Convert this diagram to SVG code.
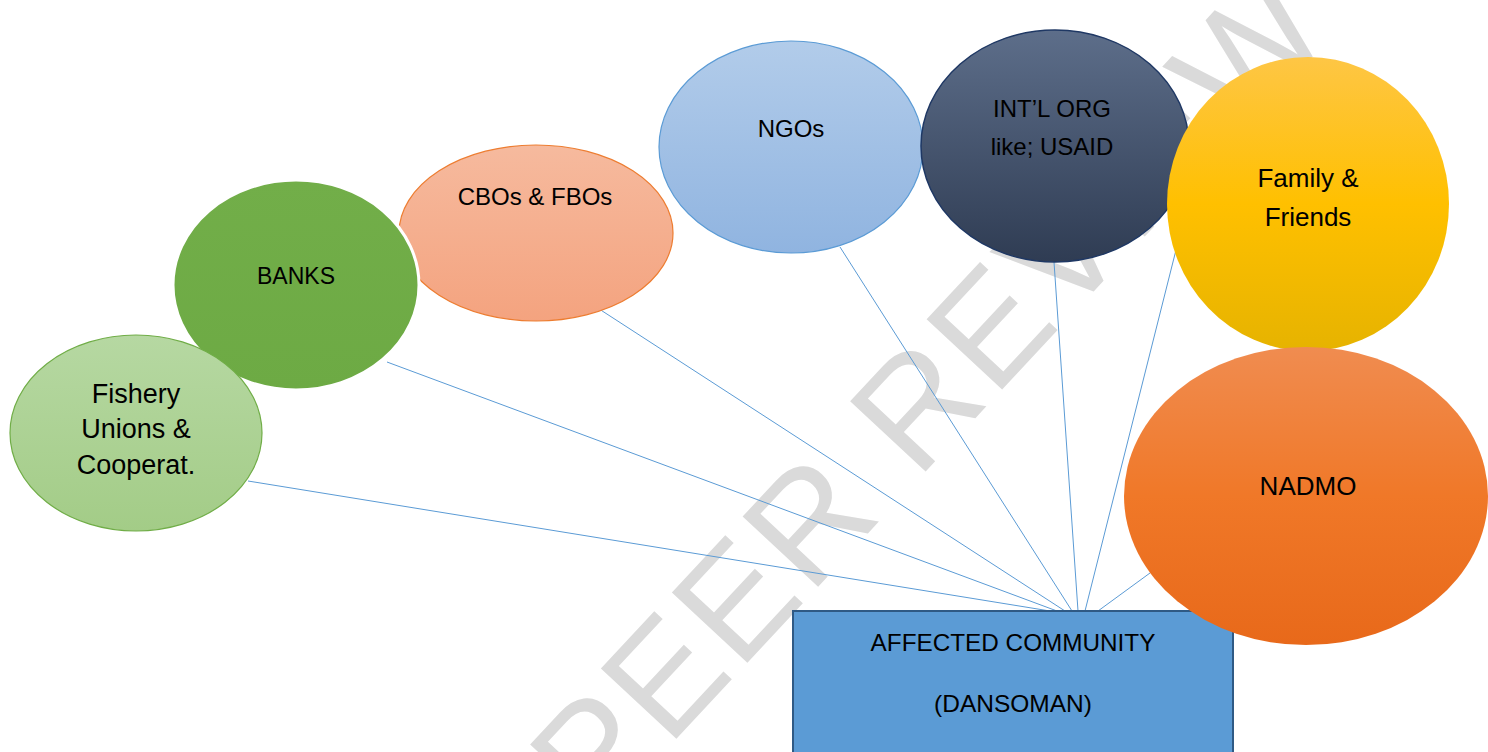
<svg xmlns="http://www.w3.org/2000/svg" width="1488" height="752" viewBox="0 0 1488 752">
  <defs>
    <linearGradient id="gFish" x1="0" y1="0" x2="0" y2="1">
      <stop offset="0" stop-color="#B6D8A2"/>
      <stop offset="1" stop-color="#A3CC87"/>
    </linearGradient>
    <linearGradient id="gBank" x1="0" y1="0" x2="0" y2="1">
      <stop offset="0" stop-color="#72AE49"/>
      <stop offset="1" stop-color="#6DAA44"/>
    </linearGradient>
    <linearGradient id="gCbo" x1="0" y1="0" x2="0" y2="1">
      <stop offset="0" stop-color="#F6BA9E"/>
      <stop offset="1" stop-color="#F4A37F"/>
    </linearGradient>
    <linearGradient id="gNgo" x1="0" y1="0" x2="0" y2="1">
      <stop offset="0" stop-color="#B2CCEA"/>
      <stop offset="1" stop-color="#90B4E0"/>
    </linearGradient>
    <linearGradient id="gInt" x1="0" y1="0" x2="0" y2="1">
      <stop offset="0" stop-color="#5D6E8A"/>
      <stop offset="1" stop-color="#2F3C53"/>
    </linearGradient>
    <linearGradient id="gFam" x1="0" y1="0" x2="0" y2="1">
      <stop offset="0" stop-color="#FEC645"/>
      <stop offset="0.5" stop-color="#FFC000"/>
      <stop offset="1" stop-color="#E6B300"/>
    </linearGradient>
    <linearGradient id="gNad" x1="0" y1="0" x2="0" y2="1">
      <stop offset="0" stop-color="#F08C50"/>
      <stop offset="0.5" stop-color="#F07828"/>
      <stop offset="1" stop-color="#E8691A"/>
    </linearGradient>
  </defs>
  <style>
    .lbl { font-family: "Liberation Sans", Arial, sans-serif; fill: #000000; text-anchor: middle; }
    .conn { stroke: #5B9BD5; stroke-width: 1; fill: none; }
    .wm { font-family: "Liberation Sans", Arial, sans-serif; fill: #DADADA; text-anchor: middle; font-size: 150px; }
  </style>
  <rect x="0" y="0" width="1488" height="752" fill="#FFFFFF"/>

  <g id="watermark" transform="translate(926,392) rotate(-47)">
    <text class="wm" x="0" y="54" textLength="1080" lengthAdjust="spacing">PEER REVIEW</text>
  </g>

  <g id="connectors">
    <line class="conn" x1="248" y1="481" x2="1050" y2="611"/>
    <line class="conn" x1="387" y1="362" x2="1057" y2="611"/>
    <line class="conn" x1="593" y1="305" x2="1065" y2="611"/>
    <line class="conn" x1="840" y1="247" x2="1072" y2="611"/>
    <line class="conn" x1="1054" y1="262" x2="1078" y2="611"/>
    <line class="conn" x1="1176" y1="250" x2="1085" y2="611"/>
    <line class="conn" x1="1150" y1="573" x2="1098" y2="611" stroke="#7F9DB8"/>
  </g>

  <g id="node-cbos">
    <ellipse cx="536" cy="233" rx="137" ry="88" fill="url(#gCbo)" stroke="#ED7D31" stroke-width="1.2"/>
    <text class="lbl" x="535" y="205" font-size="24">CBOs &amp; FBOs</text>
  </g>

  <g id="node-banks">
    <ellipse cx="296" cy="285" rx="123" ry="105" fill="url(#gBank)" stroke="#FFFFFF" stroke-width="3"/>
    <text class="lbl" x="296" y="284" font-size="23">BANKS</text>
  </g>

  <g id="node-fishery">
    <ellipse cx="136" cy="433" rx="126" ry="98" fill="url(#gFish)" stroke="#70AD47" stroke-width="1.2"/>
    <text class="lbl" x="136" y="403" font-size="27">Fishery</text>
    <text class="lbl" x="136" y="438" font-size="27">Unions &amp;</text>
    <text class="lbl" x="136" y="474" font-size="27">Cooperat.</text>
  </g>

  <g id="node-ngos">
    <ellipse cx="791" cy="147" rx="132" ry="106" fill="url(#gNgo)" stroke="#5B9BD5" stroke-width="1.2"/>
    <text class="lbl" x="791" y="137" font-size="24">NGOs</text>
  </g>

  <g id="node-intl">
    <ellipse cx="1055" cy="146" rx="134" ry="116" fill="url(#gInt)" stroke="#1F3864" stroke-width="1.5"/>
    <text class="lbl" x="1052" y="117" font-size="24">INT’L ORG</text>
    <text class="lbl" x="1052" y="155" font-size="24">like; USAID</text>
  </g>

  <g id="node-family">
    <ellipse cx="1308" cy="204" rx="141" ry="147" fill="url(#gFam)"/>
    <text class="lbl" x="1308" y="187" font-size="26">Family &amp;</text>
    <text class="lbl" x="1308" y="226" font-size="26">Friends</text>
  </g>

  <g id="node-community">
    <rect x="793" y="611" width="440" height="150" fill="#5B9BD5" stroke="#2F5A85" stroke-width="2"/>
    <text class="lbl" x="1013" y="651" font-size="24.3">AFFECTED COMMUNITY</text>
    <text class="lbl" x="1013" y="712" font-size="24.5">(DANSOMAN)</text>
  </g>

  <g id="node-nadmo">
    <ellipse cx="1306" cy="496" rx="182" ry="149" fill="url(#gNad)"/>
    <text class="lbl" x="1308" y="495" font-size="26">NADMO</text>
  </g>
</svg>
